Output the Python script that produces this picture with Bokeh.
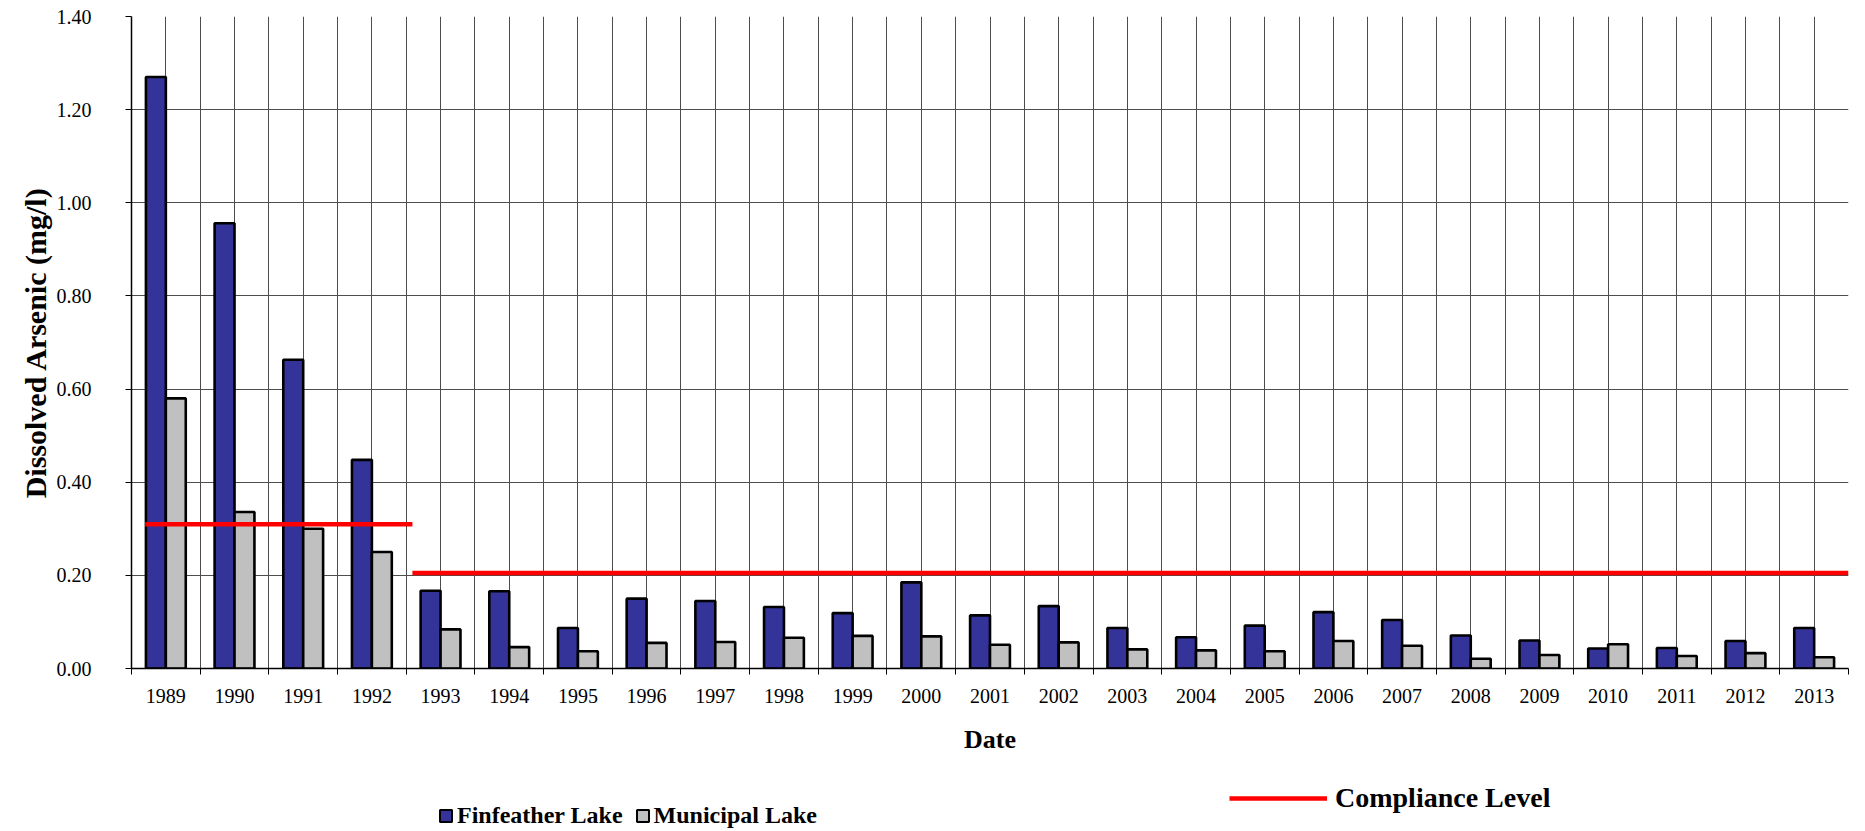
from bokeh.plotting import figure
from bokeh.layouts import column
from bokeh.models import Range1d, FixedTicker, NumeralTickFormatter, Legend, LegendItem, ColumnDataSource
from bokeh.embed import file_html
from bokeh.resources import INLINE
import numpy as np

# ---- data ----
years = [str(y) for y in range(1989, 2014)]
finfeather = [1.270, 0.956, 0.663, 0.448, 0.167, 0.166, 0.087, 0.150, 0.145, 0.132,
              0.119, 0.185, 0.114, 0.134, 0.087, 0.067, 0.092, 0.121, 0.104, 0.071,
              0.060, 0.043, 0.044, 0.059, 0.087]
municipal = [0.580, 0.336, 0.300, 0.250, 0.084, 0.046, 0.037, 0.055, 0.057, 0.066,
             0.070, 0.069, 0.051, 0.056, 0.041, 0.039, 0.037, 0.059, 0.049, 0.021,
             0.029, 0.052, 0.027, 0.033, 0.024]
compliance_level = [0.31, 0.205]
compliance_from = [1988.7, 1992.59]   # in year units
compliance_to = [1992.59, 2013.5]
y_ticks = [0.0, 0.2, 0.4, 0.6, 0.8, 1.0, 1.2, 1.4]

FONT = "Liberation Serif"
BLUE = "#333399"
GRAY = "#C0C0C0"
RED = "#FF0000"
GRID = "#4d4d4d"
W = 1860
LEFT = 131

n = len(years)
centers = [i + 0.5 for i in range(n)]
bw = 0.29

src = ColumnDataSource(dict(
    xb=[c - bw / 2 for c in centers],
    xg=[c + bw / 2 for c in centers],
    fin=finfeather,
    mun=municipal,
))

csrc = ColumnDataSource(dict(
    x0=[y - 1989 + 0.5 for y in compliance_from],
    x1=[y - 1989 + 0.5 for y in compliance_to],
    y=compliance_level,
))

p = figure(width=W, height=775, output_backend="svg", toolbar_location=None,
           x_range=Range1d(0, n), y_range=Range1d(0, 1.4),
           min_border_left=LEFT, min_border_right=W - 1848, min_border_top=16,
           min_border_bottom=775 - 668)
p.outline_line_color = None
p.background_fill_color = "white"
p.border_fill_color = "white"

p.vbar(x="xb", top="fin", width=bw, source=src, fill_color=BLUE,
       line_color="black", line_width=2.6)
p.vbar(x="xg", top="mun", width=bw, source=src, fill_color=GRAY,
       line_color="black", line_width=2.6)
p.segment(x0="x0", y0="y", x1="x1", y1="y", source=csrc,
          line_color=RED, line_width=4.5)

# x axis
xa = p.xaxis[0]
xa.ticker = FixedTicker(ticks=centers, minor_ticks=[float(i) for i in range(n + 1)])
xa.major_label_overrides = {c: y for c, y in zip(centers, years)}
xa.major_tick_out = 0
xa.major_tick_in = 0
xa.minor_tick_out = 6
xa.minor_tick_in = 0
xa.minor_tick_line_color = "black"
xa.axis_line_color = "black"
xa.axis_line_width = 1.5
xa.major_label_text_font = FONT
xa.major_label_text_font_size = "20px"
xa.major_label_text_color = "black"
xa.major_label_standoff = 14
xa.axis_label = "Date"
xa.axis_label_text_font = FONT
xa.axis_label_text_font_style = "bold"
xa.axis_label_text_font_size = "26px"
xa.axis_label_text_color = "black"
xa.axis_label_standoff = 19

# y axis
ya = p.yaxis[0]
ya.ticker = FixedTicker(ticks=y_ticks, minor_ticks=[])
ya.formatter = NumeralTickFormatter(format="0.00")
ya.major_tick_out = 6
ya.major_tick_in = 0
ya.minor_tick_out = 0
ya.minor_tick_in = 0
ya.axis_line_color = "black"
ya.axis_line_width = 1.5
ya.major_label_text_font = FONT
ya.major_label_text_font_size = "20px"
ya.major_label_text_color = "black"
ya.major_label_standoff = 34
ya.axis_label = "Dissolved Arsenic (mg/l)"
ya.axis_label_text_font = FONT
ya.axis_label_text_font_style = "bold"
ya.axis_label_text_font_size = "30px"
ya.axis_label_text_color = "black"
ya.axis_label_standoff = 2

# grids
p.xgrid.ticker = FixedTicker(ticks=[k * 0.5 for k in range(2 * n + 1)])
p.xgrid.grid_line_color = GRID
p.xgrid.grid_line_width = 1
p.ygrid.grid_line_color = GRID
p.ygrid.grid_line_width = 1

# ---- legend strip (separate figure below; its frame aligns with the chart frame) ----
LH = 54
q = figure(width=W, height=LH, output_backend="svg", toolbar_location=None,
           x_range=Range1d(0, 1), y_range=Range1d(0, 1),
           x_axis_location=None, y_axis_location=None,
           min_border_left=0, min_border_right=0, min_border_top=0, min_border_bottom=0)
q.outline_line_color = None
q.grid.visible = False
q.border_fill_color = "white"

# stand-ins with no drawable data that only supply the legend swatches
nan = np.array([np.nan])
dummy = ColumnDataSource(dict(x=nan, top=nan, bottom=nan, x0=nan, x1=nan, y=nan))
l_fin = q.vbar(x="x", top="top", bottom="bottom", width=0.1, source=dummy,
               fill_color=BLUE, line_color="black", line_width=2)
l_mun = q.vbar(x="x", top="top", bottom="bottom", width=0.1, source=dummy,
               fill_color=GRAY, line_color="black", line_width=2)
l_comp = q.segment(x0="x0", y0="y", x1="x1", y1="y", source=dummy,
                   line_color=RED, line_width=4.7)

leg1 = Legend(items=[LegendItem(label="Finfeather Lake", renderers=[l_fin]),
                     LegendItem(label="Municipal Lake", renderers=[l_mun])],
              location=(438 - LEFT, 0), orientation="horizontal",
              glyph_width=15, glyph_height=15, label_standoff=4, spacing=12,
              padding=0, margin=0, label_height=24,
              label_text_font=FONT, label_text_font_style="bold",
              label_text_font_size="24px", label_text_color="black",
              border_line_color=None, background_fill_alpha=0)
leg2 = Legend(items=[LegendItem(label="Compliance Level", renderers=[l_comp])],
              location=(1229 - LEFT, 15), orientation="horizontal",
              glyph_width=98, glyph_height=28, label_standoff=8, spacing=0,
              padding=0, margin=0, label_height=28,
              label_text_font=FONT, label_text_font_style="bold",
              label_text_font_size="28px", label_text_color="black",
              border_line_color=None, background_fill_alpha=0)
q.add_layout(leg1)
q.add_layout(leg2)

layout = column(p, q, spacing=0)
open("out.html", "w").write(file_html(layout, INLINE))
